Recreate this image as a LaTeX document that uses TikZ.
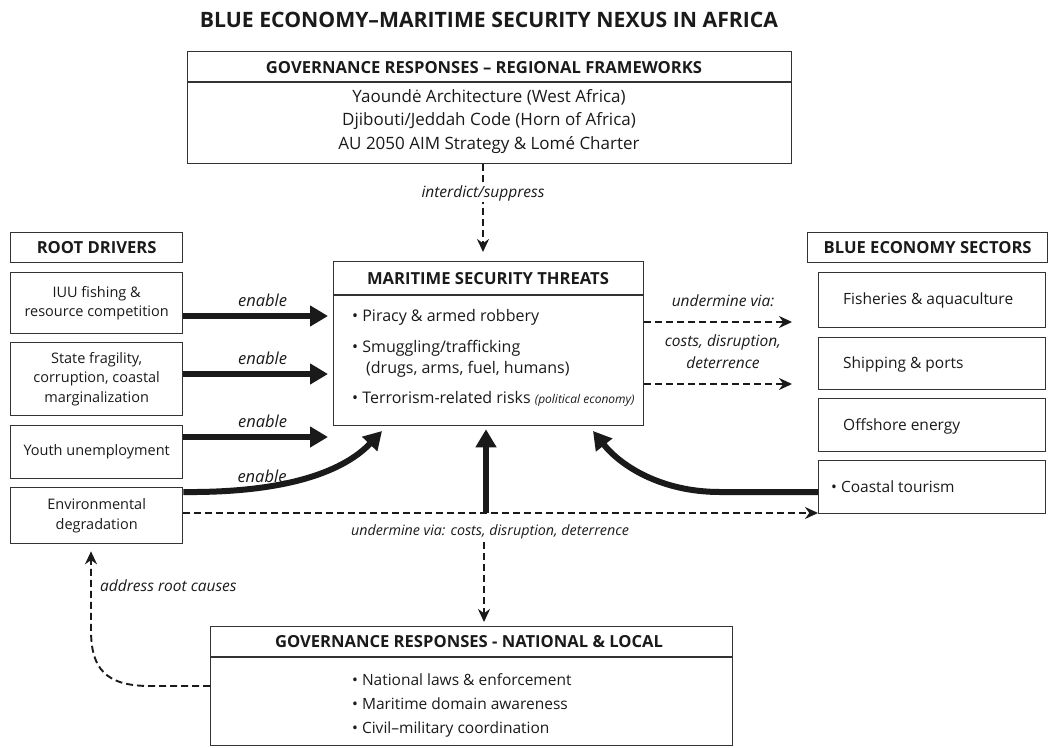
\documentclass[tikz,border=0pt]{standalone}
\usepackage{fontspec}
\setmainfont{Open Sans}
\usetikzlibrary{arrows.meta}
\definecolor{ink}{HTML}{1A1A1A}
\definecolor{frame}{HTML}{333333}
\begin{document}
\begin{tikzpicture}[x=1pt,y=-1pt,
  box/.style={draw=frame, line width=1.3pt, inner sep=0pt, anchor=north west, text=ink},
  sepline/.style={draw=frame, line width=1.2pt},
  ttl/.style={font=\fontsize{21.2}{24}\selectfont\bfseries, text=ink},
  hdr/.style={font=\fontsize{16.6}{19}\selectfont\bfseries, text=ink},
  bodyT/.style={font=\fontsize{17}{23.5}\selectfont, align=center, text=ink},
  bodyL/.style={font=\fontsize{14.5}{19.5}\selectfont, align=center},
  bodyR/.style={font=\fontsize{15.5}{19}\selectfont},
  bodyC/.style={font=\fontsize{16}{19}\selectfont, anchor=west, inner sep=0pt, text=ink},
  bodyB/.style={font=\fontsize{15.5}{19}\selectfont, anchor=west, inner sep=0pt, text=ink},
  lbl/.style={font=\fontsize{15.5}{19}\selectfont\itshape, text=ink, inner sep=1pt},
  thick arrow/.style={draw=ink, line width=6pt, -{Triangle[length=18pt,width=20pt]}},
  dash arrow/.style={draw=ink, line width=1.9pt, dash pattern=on 7pt off 4pt, -{Stealth[length=13pt,width=12pt]}}
]
\useasboundingbox (0,0) rectangle (1049,747);

% title
\node[ttl] (title) at (489,20) {BLUE ECONOMY–MARITIME SECURITY NEXUS IN AFRICA};

% regional frameworks
\node[box, minimum width=604pt, minimum height=112pt] (reg) at (187,51) {};
\draw[sepline] (reg.west |- 0,82) -- (reg.east |- 0,82);
\node[hdr] (regh) at (484,68) {GOVERNANCE RESPONSES – REGIONAL FRAMEWORKS};
\node[bodyT] (regb) at (489,121.5) {Yaoundė Architecture (West Africa)\\Djibouti/Jeddah Code (Horn of Africa)\\AU 2050 AIM Strategy \& Lomé Charter};

% root drivers
\node[box, hdr, minimum width=172pt, minimum height=30pt] (rd) at (10,232) {ROOT DRIVERS};
\node[box, bodyL, minimum width=172pt, minimum height=61pt] (iuu) at (10,272) {IUU fishing \&\\resource competition};
\node[box, bodyL, minimum width=172pt, minimum height=73pt] (state) at (10,342) {State fragility,\\corruption, coastal\\marginalization};
\node[box, bodyL, minimum width=172pt, minimum height=53pt] (youth) at (10,425) {Youth unemployment};
\node[box, bodyL, minimum width=172pt, minimum height=56pt] (env) at (10,487) {Environmental\\degradation};

% threats
\node[box, minimum width=310pt, minimum height=164pt] (threat) at (333,261) {};
\draw[sepline] (threat.west |- 0,295) -- (threat.east |- 0,295);
\node[hdr] (threath) at (488,279) {MARITIME SECURITY THREATS};
\node[bodyC] (t1) at (352,317) {• Piracy \& armed robbery};
\node[bodyC] (t2) at (352,348) {• Smuggling/trafficking};
\node[bodyC] (t2b) at (366,369) {(drugs, arms, fuel, humans)};
\node[bodyC] (t3) at (352,399) {• Terrorism-related risks \fontsize{12}{14}\selectfont\itshape (political economy)};

% blue economy sectors
\node[box, hdr, minimum width=240pt, minimum height=30pt] (bes) at (807,232) {BLUE ECONOMY SECTORS};
\node[box, bodyR, minimum width=227pt, minimum height=55pt] (fish) at (818,272) {};
\node[box, bodyR, minimum width=227pt, minimum height=52pt] (ship) at (818,337) {};
\node[box, bodyR, minimum width=227pt, minimum height=53pt] (off) at (818,398) {};
\node[box, bodyR, minimum width=227pt, minimum height=53pt] (coast) at (818,460) {};
\node[bodyB] (fisht) at (843,300) {Fisheries \& aquaculture};
\node[bodyB] (shipt) at (843,364) {Shipping \& ports};
\node[bodyB] (offt) at (843,426) {Offshore energy};
\node[bodyB] (coastt) at (831,487) {• Coastal tourism};

% national & local
\node[box, minimum width=522pt, minimum height=119pt] (nat) at (210,626) {};
\draw[sepline] (nat.west |- 0,657) -- (nat.east |- 0,657);
\node[hdr] (nath) at (469,642) {GOVERNANCE RESPONSES - NATIONAL \& LOCAL};
\node[bodyB] (n1) at (352,680) {• National laws \& enforcement};
\node[bodyB] (n2) at (352,704) {• Maritime domain awareness};
\node[bodyB] (n3) at (352,729) {• Civil–military coordination};

% coordinates for free ends
\coordinate (r1) at (792,322);
\coordinate (r2) at (792,384);
\coordinate (jn) at (486,513);
\coordinate (dn) at (484,542);

% interdict
\draw[dash arrow, shorten >=9pt] (reg.south -| 483,0) -- node[lbl, fill=white, pos=0.3] (lint) {interdict/suppress} (threat.north -| 483,0);

% enable arrows
\draw[thick arrow, shorten >=5pt] (iuu.east |- 0,316) -- node[lbl, above=5pt, pos=0.53, font=\fontsize{16.5}{19}\selectfont\itshape] (e1) {enable} (threat.west |- 0,316);
\draw[thick arrow, shorten >=5pt] (state.east |- 0,374) -- node[lbl, above=5pt, pos=0.53, font=\fontsize{16.5}{19}\selectfont\itshape] (e2) {enable} (threat.west |- 0,374);
\draw[thick arrow, shorten >=5pt] (youth.east |- 0,437) -- node[lbl, above=5pt, pos=0.53, font=\fontsize{16.5}{19}\selectfont\itshape] (e3) {enable} (threat.west |- 0,437);
\draw[thick arrow] (env.east |- 0,492) .. controls (290,493) and (345,470) .. (382,431);
\node[lbl, font=\fontsize{16.5}{19}\selectfont\itshape] (e4) at (262,476) {enable};

% feedback from coastal tourism
\draw[thick arrow] (coast.west |- 0,492) -- (720,492) .. controls (660,492) and (620,465) .. (593,431);

% undermine arrows to right
\draw[dash arrow] (threat.east |- 0,322) -- (r1);
\draw[dash arrow] (threat.east |- 0,384) -- (r2);
\node[lbl] (u1) at (723,301) {undermine via:};
\node[lbl, align=center, font=\fontsize{15.5}{22}\selectfont\itshape] (u2) at (723,352) {costs, disruption,\\deterrence};

% env dashed to coastal
\draw[dash arrow] (env.east |- 0,513) -- (coast.west |- 0,513);
\draw[thick arrow, shorten >=3pt] (jn) -- (threat.south -| jn);
\node[lbl, font=\fontsize{14.3}{17}\selectfont\itshape] (u3) at (490,532) {undermine via: costs, disruption, deterrence};

% down to national
\draw[dash arrow, shorten >=4pt] (dn) -- (nat.north -| dn);

% address root causes
\draw[dash arrow, shorten >=7pt] (nat.west |- 0,686) -- (150,686) .. controls (105,686) and (91,668) .. (91,630) -- (env.south -| 91,0);
\node[lbl, anchor=west] (arc) at (99,586) {address root causes};
\end{tikzpicture}
\end{document}
